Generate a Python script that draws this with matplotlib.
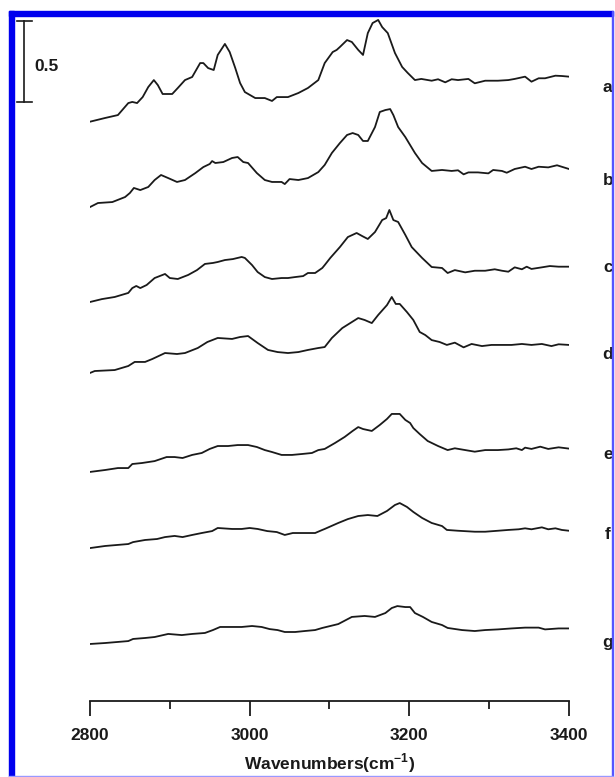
import matplotlib.pyplot as plt
from matplotlib.patches import Rectangle
import matplotlib.transforms as mtransforms

plt.rcParams['font.family'] = ['Liberation Sans', 'DejaVu Sans']
plt.rcParams['mathtext.fontset'] = 'custom'
plt.rcParams['mathtext.rm'] = 'Liberation Sans:bold'
plt.rcParams['mathtext.bf'] = 'Liberation Sans:bold'

# spectra a-g, stacked (absorbance incl. offset)
wn_a = [2800, 2819, 2835, 2848, 2853, 2859, 2866, 2873, 2880, 2885, 2891, 2903, 2910, 2919, 2928,
        2938, 2942, 2948, 2955, 2960, 2969, 2975, 2982, 2988, 2994, 3007, 3019, 3028, 3034, 3048,
        3061, 3073, 3086, 3094, 3104, 3109, 3113, 3122, 3128, 3136, 3142, 3148, 3154, 3161, 3166,
        3173, 3182, 3191, 3198, 3207, 3215, 3228, 3236, 3245, 3253, 3261, 3274, 3282, 3295, 3311,
        3324, 3332, 3345, 3353, 3362, 3370, 3383, 3391, 3400]
abs_a = [3.576, 3.599, 3.617, 3.691, 3.698, 3.691, 3.728, 3.790, 3.833, 3.802, 3.747, 3.747, 3.784,
         3.833, 3.852, 3.938, 3.938, 3.907, 3.895, 3.988, 4.056, 4.006, 3.907, 3.815, 3.759, 3.722,
         3.722, 3.704, 3.728, 3.728, 3.753, 3.784, 3.833, 3.938, 4.006, 4.019, 4.037, 4.080, 4.068,
         4.019, 3.988, 4.123, 4.185, 4.204, 4.160, 4.123, 4.000, 3.914, 3.877, 3.833, 3.840, 3.829,
         3.838, 3.819, 3.838, 3.833, 3.840, 3.813, 3.829, 3.829, 3.833, 3.840, 3.854, 3.823, 3.844,
         3.844, 3.860, 3.858, 3.854]

wn_b = [2800, 2810, 2828, 2844, 2850, 2855, 2863, 2873, 2881, 2889, 2898, 2909, 2919, 2932, 2942,
        2950, 2953, 2957, 2967, 2978, 2985, 2992, 2998, 3009, 3019, 3028, 3040, 3044, 3050, 3061,
        3073, 3086, 3094, 3103, 3113, 3122, 3129, 3136, 3142, 3148, 3157, 3163, 3170, 3176, 3180,
        3186, 3195, 3207, 3216, 3228, 3241, 3253, 3261, 3268, 3274, 3286, 3299, 3305, 3316, 3322,
        3332, 3345, 3353, 3362, 3374, 3385, 3400]
abs_b = [3.049, 3.074, 3.080, 3.111, 3.136, 3.167, 3.154, 3.173, 3.216, 3.247, 3.228, 3.204, 3.216,
         3.259, 3.296, 3.315, 3.333, 3.321, 3.327, 3.352, 3.358, 3.327, 3.321, 3.259, 3.216, 3.204,
         3.204, 3.191, 3.222, 3.216, 3.228, 3.265, 3.309, 3.383, 3.444, 3.494, 3.506, 3.494, 3.457,
         3.457, 3.543, 3.636, 3.648, 3.654, 3.617, 3.543, 3.481, 3.383, 3.321, 3.272, 3.278, 3.272,
         3.276, 3.251, 3.263, 3.263, 3.257, 3.278, 3.272, 3.261, 3.284, 3.298, 3.284, 3.298, 3.294,
         3.307, 3.284]

wn_c = [2800, 2815, 2831, 2848, 2853, 2858, 2863, 2871, 2881, 2894, 2900, 2910, 2923, 2934, 2944,
        2954, 2960, 2969, 2979, 2990, 2994, 3003, 3010, 3019, 3028, 3040, 3048, 3057, 3067, 3073,
        3082, 3091, 3094, 3101, 3113, 3123, 3134, 3141, 3148, 3157, 3166, 3171, 3175, 3180, 3186,
        3195, 3203, 3216, 3228, 3241, 3248, 3257, 3270, 3282, 3295, 3307, 3316, 3324, 3332, 3341,
        3347, 3353, 3366, 3376, 3387, 3400]
abs_c = [2.463, 2.481, 2.494, 2.519, 2.549, 2.562, 2.549, 2.568, 2.611, 2.636, 2.611, 2.605, 2.630,
         2.660, 2.698, 2.704, 2.710, 2.722, 2.728, 2.741, 2.735, 2.691, 2.648, 2.617, 2.605, 2.611,
         2.611, 2.617, 2.623, 2.642, 2.642, 2.673, 2.691, 2.735, 2.802, 2.864, 2.889, 2.870, 2.852,
         2.895, 2.969, 2.981, 3.031, 2.969, 2.957, 2.877, 2.802, 2.735, 2.679, 2.673, 2.642, 2.660,
         2.646, 2.656, 2.656, 2.665, 2.656, 2.650, 2.677, 2.665, 2.681, 2.667, 2.677, 2.685, 2.681,
         2.681]

wn_d = [2800, 2806, 2831, 2848, 2856, 2869, 2878, 2894, 2909, 2919, 2935, 2947, 2960, 2978, 2988,
        2998, 3010, 3023, 3035, 3048, 3061, 3073, 3086, 3094, 3103, 3116, 3126, 3136, 3144, 3153,
        3161, 3172, 3178, 3183, 3188, 3197, 3205, 3213, 3220, 3228, 3238, 3247, 3257, 3268, 3278,
        3291, 3303, 3316, 3328, 3341, 3353, 3366, 3378, 3387, 3400]
abs_d = [2.025, 2.037, 2.043, 2.068, 2.093, 2.093, 2.111, 2.148, 2.142, 2.148, 2.179, 2.216, 2.241,
         2.235, 2.247, 2.253, 2.210, 2.167, 2.154, 2.148, 2.154, 2.167, 2.179, 2.185, 2.241, 2.302,
         2.333, 2.364, 2.352, 2.333, 2.383, 2.444, 2.494, 2.451, 2.451, 2.401, 2.352, 2.278, 2.259,
         2.228, 2.216, 2.198, 2.212, 2.183, 2.204, 2.191, 2.198, 2.198, 2.198, 2.204, 2.198, 2.204,
         2.191, 2.202, 2.198]

wn_e = [2800, 2819, 2835, 2848, 2853, 2865, 2881, 2896, 2906, 2916, 2928, 2940, 2950, 2960, 2973,
        2985, 2998, 3009, 3019, 3028, 3040, 3053, 3066, 3078, 3086, 3094, 3107, 3119, 3129, 3136,
        3142, 3153, 3163, 3172, 3178, 3188, 3195, 3201, 3205, 3213, 3223, 3236, 3248, 3257, 3270,
        3282, 3295, 3311, 3324, 3334, 3341, 3345, 3353, 3364, 3374, 3387, 3400]
abs_e = [1.414, 1.426, 1.438, 1.438, 1.463, 1.469, 1.481, 1.506, 1.506, 1.500, 1.519, 1.531, 1.556,
         1.574, 1.574, 1.580, 1.580, 1.568, 1.549, 1.537, 1.519, 1.519, 1.525, 1.531, 1.549, 1.556,
         1.593, 1.630, 1.667, 1.691, 1.679, 1.667, 1.704, 1.741, 1.772, 1.772, 1.735, 1.716, 1.685,
         1.648, 1.605, 1.574, 1.549, 1.560, 1.549, 1.539, 1.549, 1.549, 1.553, 1.560, 1.549, 1.564,
         1.556, 1.570, 1.556, 1.566, 1.558]

wn_f = [2800, 2819, 2848, 2854, 2869, 2884, 2894, 2906, 2916, 2928, 2940, 2953, 2960, 2978, 2990,
        3000, 3010, 3022, 3034, 3044, 3054, 3069, 3082, 3091, 3094, 3111, 3123, 3136, 3148, 3160,
        3172, 3182, 3188, 3197, 3205, 3216, 3228, 3241, 3247, 3261, 3282, 3295, 3311, 3324, 3337,
        3345, 3353, 3366, 3374, 3383, 3391, 3400]
abs_f = [0.944, 0.957, 0.969, 0.981, 0.994, 1.000, 1.012, 1.019, 1.012, 1.025, 1.037, 1.049, 1.068,
         1.062, 1.062, 1.068, 1.062, 1.049, 1.043, 1.025, 1.037, 1.037, 1.037, 1.056, 1.062, 1.099,
         1.123, 1.142, 1.148, 1.142, 1.173, 1.210, 1.222, 1.198, 1.167, 1.130, 1.099, 1.080, 1.056,
         1.051, 1.045, 1.045, 1.051, 1.056, 1.060, 1.066, 1.060, 1.072, 1.060, 1.066, 1.056, 1.051]

wn_g = [2800, 2819, 2848, 2854, 2869, 2881, 2898, 2915, 2928, 2944, 2954, 2963, 2978, 2990, 3003,
        3015, 3025, 3035, 3044, 3057, 3069, 3082, 3091, 3111, 3128, 3144, 3157, 3170, 3178, 3185,
        3195, 3201, 3207, 3217, 3228, 3241, 3248, 3266, 3282, 3295, 3311, 3328, 3345, 3362, 3370,
        3387, 3400]
abs_g = [0.352, 0.358, 0.370, 0.383, 0.389, 0.395, 0.414, 0.407, 0.414, 0.420, 0.438, 0.457, 0.457,
         0.457, 0.463, 0.457, 0.444, 0.438, 0.426, 0.426, 0.432, 0.438, 0.451, 0.475, 0.519, 0.525,
         0.519, 0.543, 0.574, 0.586, 0.580, 0.580, 0.543, 0.519, 0.488, 0.469, 0.451, 0.438, 0.432,
         0.438, 0.442, 0.448, 0.453, 0.453, 0.442, 0.448, 0.448]

labels = ['a', 'b', 'c', 'd', 'e', 'f', 'g']
label_y = [3.790, 3.216, 2.673, 2.136, 1.519, 1.025, 0.364]
xticks = [2800, 3000, 3200, 3400]
minor_xticks = [2900, 3100, 3300]

ink = '#1a1a1a'
fs = 12.5

fig = plt.figure(figsize=(6.15, 7.77), dpi=100)
ax = fig.add_axes([0.1463, 0.0978, 0.7789, 0.8861])

spectra = [(wn_a, abs_a), (wn_b, abs_b), (wn_c, abs_c), (wn_d, abs_d),
           (wn_e, abs_e), (wn_f, abs_f), (wn_g, abs_g)]
for wn, ab in spectra:
    ax.plot(wn, ab, color=ink, lw=1.3)

ax.set_xlim(2800, 3400)
ax.set_ylim(0, 4.25)

for s in ('top', 'right', 'left'):
    ax.spines[s].set_visible(False)
ax.spines['bottom'].set_linewidth(1.3)
ax.spines['bottom'].set_color(ink)
ax.set_yticks([])
ax.set_xticks(xticks)
ax.set_xticks(minor_xticks, minor=True)
ax.tick_params(axis='x', which='major', direction='out', length=11, width=1.3,
               color=ink, pad=8.5, labelsize=fs)
ax.tick_params(axis='x', which='minor', direction='out', length=5.5, width=1.3, color=ink)
for t in ax.get_xticklabels():
    t.set_fontweight('bold')
    t.set_color(ink)
ax.set_xlabel(r'Wavenumbers(cm$^{-1}$)', fontsize=fs, fontweight='bold', color=ink,
              labelpad=6)

tr = mtransforms.blended_transform_factory(ax.transAxes, ax.transData)

# curve letters at right
for lab, y in zip(labels, label_y):
    ax.text(1.081, y, lab, transform=tr, fontsize=fs, fontweight='bold', color=ink,
            ha='center', va='center')

# 0.5 absorbance scale bar
ax.plot([-0.1378, -0.1378], [3.70, 4.20], color=ink, lw=1.2, transform=tr, clip_on=False)
ax.plot([-0.1524, -0.1211], [4.20, 4.20], color=ink, lw=1.2, transform=tr, clip_on=False)
ax.plot([-0.1524, -0.1211], [3.70, 3.70], color=ink, lw=1.2, transform=tr, clip_on=False)
ax.text(-0.116, 3.914, '0.5', transform=tr, fontsize=fs, fontweight='bold', color=ink,
        ha='left', va='center')

# blue frame around the figure
fig.patches.append(Rectangle((0.0146, 0.9794), 0.9821, 0.0064, transform=fig.transFigure,
                             color='#0000ee', zorder=5))
fig.patches.append(Rectangle((0.0146, 0.0), 0.0081, 0.9858, transform=fig.transFigure,
                             color='#0000ee', zorder=5))
fig.patches.append(Rectangle((0.9951, 0.0), 0.0016, 0.9858, transform=fig.transFigure,
                             color='#5555ff', zorder=5))
fig.patches.append(Rectangle((0.0146, 0.0), 0.9821, 0.0013, transform=fig.transFigure,
                             color='#9999ff', zorder=5))

fig.savefig('out.png', dpi=100)
